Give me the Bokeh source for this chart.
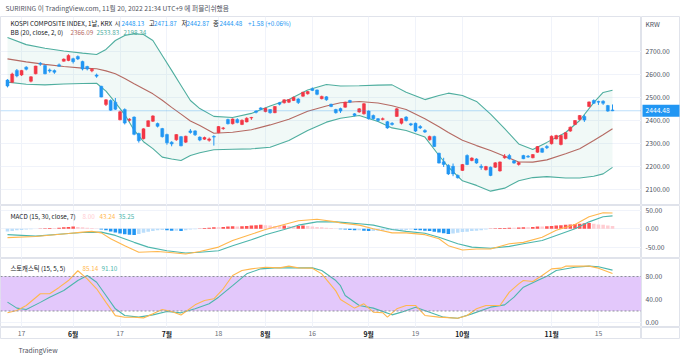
from bokeh.plotting import figure
from bokeh.layouts import column, row
from bokeh.models import (ColumnDataSource, FixedTicker, Label, Span, Range1d, BoxAnnotation)
from bokeh.embed import file_html
from bokeh.resources import INLINE
from bokeh.core.properties import value

FONT = "Noto Sans CJK KR"

# ---------------- data ----------------
opens = [2578, 2568, 2620, 2600, 2634, 2573, 2605, 2651, 2641, 2622,
         2619, 2644, 2660, 2663, 2671, 2680, 2659, 2637, 2618, 2600,
         2551, 2472, 2489, 2482, 2405, 2450, 2403, 2417, 2346, 2323,
         2376, 2399, 2389, 2367, 2341, 2308, 2318, 2332, 2308, 2357,
         2357, 2330, 2321, 2316, 2333, 2349, 2367, 2406, 2388, 2406,
         2385, 2396, 2413, 2443, 2457, 2441, 2450, 2436, 2479, 2479,
         2482, 2489, 2496, 2508, 2518, 2540, 2535, 2497, 2505, 2473,
         2450, 2454, 2460, 2489, 2431, 2439, 2431, 2443, 2424, 2410,
         2407, 2397, 2390, 2420, 2390, 2417, 2388, 2390, 2376, 2359,
         2318, 2333, 2260, 2223, 2207, 2203, 2163, 2185, 2250, 2228,
         2235, 2203, 2188, 2199, 2199, 2183, 2240, 2250, 2227, 2211,
         2250, 2247, 2240, 2264, 2280, 2289, 2301, 2322, 2298, 2323,
         2356, 2385, 2406, 2420, 2463, 2489, 2485, 2486, 2467, 2448.13]
highs = [2582, 2610, 2626, 2622, 2638, 2595, 2640, 2656, 2645, 2628,
         2624, 2650, 2672, 2690, 2675, 2685, 2662, 2640, 2630, 2606,
         2553, 2495, 2494, 2500, 2445, 2455, 2412, 2420, 2349, 2368,
         2403, 2425, 2393, 2370, 2345, 2312, 2343, 2335, 2336, 2365,
         2360, 2333, 2332, 2328, 2338, 2378, 2374, 2410, 2411, 2412,
         2407, 2416, 2418, 2447, 2460, 2458, 2452, 2465, 2483, 2494,
         2495, 2506, 2499, 2527, 2530, 2546, 2537, 2510, 2508, 2475,
         2453, 2458, 2484, 2492, 2434, 2456, 2478, 2446, 2428, 2413,
         2415, 2400, 2395, 2456, 2412, 2421, 2392, 2393, 2382, 2364,
         2336, 2336, 2262, 2240, 2212, 2215, 2168, 2213, 2255, 2242,
         2238, 2212, 2205, 2202, 2221, 2224, 2256, 2257, 2230, 2222,
         2253, 2252, 2256, 2291, 2284, 2295, 2337, 2340, 2340, 2352,
         2376, 2404, 2426, 2427, 2485, 2494, 2488, 2490, 2470, 2471.87]
lows = [2546, 2566, 2590, 2596, 2620, 2568, 2603, 2640, 2603, 2610,
        2605, 2636, 2658, 2660, 2650, 2665, 2620, 2620, 2612, 2588,
        2503, 2465, 2444, 2448, 2403, 2385, 2398, 2338, 2306, 2320,
        2374, 2396, 2372, 2328, 2297, 2290, 2314, 2290, 2305, 2345,
        2335, 2312, 2318, 2310, 2293, 2347, 2362, 2385, 2385, 2390,
        2382, 2394, 2405, 2433, 2448, 2438, 2432, 2434, 2468, 2476,
        2478, 2487, 2474, 2505, 2515, 2530, 2512, 2494, 2488, 2460,
        2432, 2435, 2458, 2478, 2420, 2436, 2428, 2406, 2406, 2398,
        2403, 2366, 2380, 2418, 2385, 2398, 2378, 2352, 2365, 2348,
        2315, 2287, 2215, 2200, 2165, 2160, 2150, 2183, 2208, 2225,
        2214, 2188, 2185, 2160, 2196, 2180, 2236, 2232, 2214, 2206,
        2234, 2240, 2238, 2262, 2262, 2278, 2298, 2320, 2294, 2320,
        2353, 2382, 2403, 2396, 2460, 2474, 2470, 2470, 2440, 2442.87]
closes = [2552, 2604, 2596, 2620, 2625, 2592, 2639, 2647, 2605, 2617,
          2612, 2638, 2669, 2685, 2658, 2670, 2626, 2626, 2625, 2595,
          2504, 2492, 2447, 2451, 2440, 2391, 2408, 2342, 2314, 2366,
          2401, 2422, 2377, 2332, 2305, 2300, 2341, 2292, 2334, 2350,
          2340, 2317, 2328, 2322, 2330, 2376, 2370, 2388, 2409, 2393,
          2403, 2412, 2415, 2438, 2451, 2455, 2436, 2463, 2473, 2492,
          2493, 2503, 2480, 2525, 2528, 2533, 2516, 2507, 2492, 2463,
          2436, 2443, 2482, 2482, 2424, 2453, 2475, 2410, 2410, 2402,
          2410, 2370, 2385, 2453, 2410, 2402, 2383, 2356, 2370, 2352,
          2333, 2289, 2217, 2211, 2170, 2170, 2153, 2211, 2211, 2239,
          2217, 2198, 2202, 2163, 2218, 2222, 2247, 2236, 2217, 2219,
          2236, 2243, 2254, 2289, 2264, 2284, 2334, 2337, 2337, 2349,
          2373, 2402, 2424, 2404, 2483, 2477, 2482, 2477, 2443, 2444.48]

# Bollinger bands (20, 2) read at sample bars
bb_idx = [0, 4, 8, 12, 16, 19, 21, 23, 25, 27, 29, 31, 33, 35, 37, 39, 41, 44, 48, 52,
          56, 60, 64, 68, 71, 75, 79, 82, 85, 89, 92, 94, 97, 100, 103, 106, 109, 112, 115, 119,
          122, 125, 127, 129]
bb_upper = [2763, 2732, 2716, 2704, 2695, 2689, 2711, 2750, 2772, 2780,
            2776, 2750, 2685, 2620, 2554, 2489, 2454, 2420, 2415, 2433,
            2465, 2493, 2535, 2559, 2552, 2553, 2556, 2557, 2525, 2493,
            2511, 2521, 2511, 2485, 2430, 2367, 2300, 2276, 2307, 2350,
            2402, 2480, 2524, 2533.83]
bb_basis = [2670, 2657, 2646, 2637, 2630, 2627, 2618, 2605, 2585, 2562,
            2540, 2518, 2490, 2459, 2430, 2400, 2380, 2347, 2351, 2362,
            2383, 2408, 2442, 2465, 2479, 2485, 2478, 2466, 2450, 2410,
            2375, 2350, 2316, 2293, 2272, 2247, 2222, 2221, 2231, 2258,
            2279, 2315, 2340, 2366.09]
bb_lower = [2569, 2560, 2557, 2561, 2563, 2564, 2530, 2480, 2428, 2360,
            2310, 2280, 2243, 2235, 2228, 2250, 2262, 2275, 2277, 2279,
            2286, 2315, 2359, 2395, 2412, 2424, 2398, 2370, 2359, 2330,
            2250, 2200, 2140, 2120, 2095, 2108, 2140, 2154, 2158, 2152,
            2152, 2160, 2170, 2198.34]

# MACD (15, 30, 7)
macd_hist = [-7, -6, -4, -3, -2, -1, 0.5, 1, 1.5, 2, 2, 3, 4, 5, 6, 5, 4, 3, 2, 1,
             -2, -4, -7, -10, -13, -15, -16, -17, -14, -11,
             -8, -6, -4, -3, -4, -5, -5, -6, -4, -2, -1,
             1, 2, 3, 4, 4, 5, 6, 7, 6, 7, 8, 9, 10, 11, 10, 9, 8, 8, 9, 8,
             7, 8, 9, 8, 6, 5, 4, 3, 2,
             1, -1, -2, -3, -4, -4, -5, -6, -6, -5,
             -5, -4, -4, -3, -3, -3, -2, -3, -4, -5,
             -6, -8, -10, -12, -14, -13, -11, -9, -8, -6,
             -5, -4, -2, 1, 1.5, 2, 2.5, 3, 3, 3.5,
             4, 4, 5, 6, 6, 7, 8, 9, 10, 11,
             12, 13, 14, 15, 16, 14, 12, 11, 9, 8]
macd_idx = [0, 6, 13, 16, 18, 20, 22, 25, 28, 32, 34, 38, 41, 45, 48, 52, 55, 59, 62, 66,
            70, 71, 75, 78, 82, 85, 89, 92, 94, 97, 100, 103, 107, 110, 114, 117, 121, 124, 127, 129]
macd_line = [-24, -21, -13, -9, -7, -11, -27, -46, -64, -62, -64, -69, -62, -50, -32, -15, -2, 12, 22, 26,
             19, 16, 10, 0, -11, -11, -16, -27, -46, -58, -55, -55, -41, -37, -23, -4, 12, 33, 44, 43.24]
sig_idx = [0, 6, 13, 16, 20, 23, 27, 30, 34, 38, 41, 45, 48, 52, 55, 59, 62, 66, 70, 72,
           75, 78, 82, 85, 89, 92, 96, 99, 103, 107, 110, 114, 117, 121, 124, 127, 129]
sig_line = [-16, -20, -13, -10, -9, -18, -37, -50, -60, -66, -64, -60, -46, -30, -16, -2, 10, 19, 19, 17,
            14, 10, -2, -7, -12, -23, -41, -50, -53, -48, -41, -32, -18, 0, 19, 33, 35.25]

# Stochastic (15, 5, 5)
k_idx = [0, 2, 4, 7, 9, 11, 13, 15, 17, 19, 21, 23, 25, 27, 29, 31, 33, 35, 37, 40,
         42, 44, 46, 48, 50, 52, 55, 58, 60, 62, 65, 67, 70, 71, 74, 76, 78, 80, 81, 83,
         85, 87, 89, 92, 96, 98, 100, 102, 105, 107, 109, 110, 112, 114, 116, 118, 119, 124, 126, 129]
k_line = [16.8, 20.9, 29.6, 50, 50, 61, 73, 90, 76, 58.6, 35, 12, 9, 9, 8, 15, 22.6, 19, 13, 30.7,
          38.3, 41.2, 58.6, 81.7, 90.4, 93.3, 96.2, 95, 98, 95, 94.5, 84.6, 55, 40, 25, 32.5, 18, 17, 9.3, 23.8,
          29.6, 29.6, 12.2, 9.3, 7.5, 12.2, 23.8, 29.6, 29.6, 52.8, 67.2, 73, 71.3, 81.7, 93.3, 94.5, 98, 98, 94.5, 85.14]
d_idx = [0, 2, 4, 7, 9, 12, 15, 17, 19, 21, 23, 25, 28, 31, 34, 37, 40, 43, 45, 48,
         51, 54, 57, 61, 65, 67, 70, 71, 72, 75, 78, 82, 84, 87, 90, 93, 96, 99, 103, 106,
         108, 110, 113, 115, 117, 121, 124, 126, 129]
d_line = [35.4, 25, 22.6, 35, 44, 55.7, 73, 81.7, 70, 47, 23.8, 12.2, 9.3, 13.3, 19, 16.8, 23.8, 32.5, 44, 64,
          84.6, 93.3, 95, 95, 95, 90.4, 73, 64, 47, 29.6, 25, 13.3, 18, 26.7, 18, 9.3, 7.5, 15, 26.7, 30.7,
          44, 61.4, 73, 80.5, 90.4, 96.2, 98, 97, 91.1]
stoch_upper_band = 80
stoch_lower_band = 20

# axis ticks
price_ticks = [2100, 2200, 2300, 2400, 2500, 2600, 2700]
macd_ticks = [-50, 0, 50]
stoch_ticks = [0, 40, 80]
day_tick_idx = [3, 24, 45, 65, 87, 126]
day_labels = ["17", "17", "18", "16", "19", "15"]
month_tick_idx = [14, 34, 55, 77, 97, 116]
month_labels = ["6월", "7월", "8월", "9월", "10월", "11월"]

# ---------------- styling ----------------
UP = "#f23645"
DOWN = "#2196f3"
TEAL = "#4fae9f"
BASIS = "#b56a63"
ORANGE = "#ffb74d"
TEAL2 = "#4db6ac"
GRID = "#f0f3fa"
BORDER = "#e0e3eb"
TXT = "#131722"
AX = "#4c525e"
LEG = "6.3px"

PANE_W, AXIS_W = 641, 39
idx = list(range(len(closes)))
x_range = Range1d(-1.49, 135.18)


def pane(height, y_range, ticks):
    p = figure(width=PANE_W, height=height, x_range=x_range, y_range=y_range,
               output_backend="svg", toolbar_location=None, title=None,
               x_axis_location=None, y_axis_location=None, min_border=0)
    p.outline_line_color = BORDER
    p.background_fill_color = "white"
    p.border_fill_color = "white"
    p.xgrid.ticker = FixedTicker(ticks=sorted(day_tick_idx + month_tick_idx))
    p.xgrid.grid_line_color = GRID
    if ticks is None:
        p.ygrid.grid_line_color = None
    else:
        p.ygrid.ticker = FixedTicker(ticks=ticks)
        p.ygrid.grid_line_color = GRID
    return p


def axis_col(height, y_range, ticks):
    a = figure(width=AXIS_W, height=height, x_range=Range1d(0, AXIS_W), y_range=y_range,
               output_backend="svg", toolbar_location=None, title=None,
               x_axis_location=None, y_axis_location=None, min_border=0)
    a.grid.visible = False
    a.outline_line_color = BORDER
    a.background_fill_color = "white"
    a.border_fill_color = "white"
    if ticks:
        a.text(x=4, y=ticks, text=[f"{t:.2f}" for t in ticks], text_font=value(FONT),
               text_font_size="6.7px", text_color=AX, text_baseline="middle")
    return a


def lbl(p, x, y, text, color, size=LEG, style="normal"):
    p.add_layout(Label(x=x, y=y, x_units="screen", y_units="screen", text=text,
                       text_color=color, text_font=FONT, text_font_size=size,
                       text_font_style=style, text_baseline="middle"))


def strip(height):
    s = figure(width=PANE_W + AXIS_W, height=height, x_range=Range1d(0, 1), y_range=Range1d(0, 1),
               output_backend="svg", toolbar_location=None, title=None,
               x_axis_location=None, y_axis_location=None, min_border=0)
    s.grid.visible = False
    s.outline_line_color = None
    s.background_fill_color = "white"
    s.border_fill_color = "white"
    return s


# ---------------- header ----------------
head = strip(16)
lbl(head, 5, 9, "SURIRING 이 TradingView.com, 11월 20, 2022 21:34 UTC+9 에 퍼블리쉬했음", "#50535e",
    size="6.7px")

# ---------------- price pane ----------------
price_range = Range1d(2032.6, 2854.3)
pa = pane(189, price_range, price_ticks)
pa.varea(x=bb_idx, y1=bb_lower, y2=bb_upper, fill_color=TEAL, fill_alpha=0.08)
pa.line(bb_idx, bb_upper, line_color=TEAL, line_width=1.1)
pa.line(bb_idx, bb_lower, line_color=TEAL, line_width=1.1)
pa.line(bb_idx, bb_basis, line_color=BASIS, line_width=1.1)
pa.add_layout(Span(location=closes[-1], dimension="width", line_color="#2196f3",
                   line_alpha=0.3, line_width=1))

col = [UP if c >= o else DOWN for o, c in zip(opens, closes)]
src = ColumnDataSource(dict(x=idx, h=highs, l=lows,
                            top=[max(o, c) for o, c in zip(opens, closes)],
                            bot=[min(o, c) for o, c in zip(opens, closes)], col=col))
pa.segment(x0="x", y0="l", x1="x", y1="h", color="col", line_width=1, source=src)
pa.vbar(x="x", width=0.64, top="top", bottom="bot", fill_color="col", line_color="col",
        line_width=0.5, source=src)

lbl(pa, 10, 182, "KOSPI COMPOSITE INDEX, 1날, KRX", TXT)
for xx, t, c in [(114, "시", TXT), (121, "2448.13", DOWN), (148.5, "고", TXT), (153.5, "2471.87", DOWN),
                 (181, "저", TXT), (186, "2442.87", DOWN), (212.5, "종", TXT), (219, "2444.48", DOWN),
                 (247.5, "+1.58 (+0.06%)", DOWN)]:
    lbl(pa, xx, 182, t, c)
lbl(pa, 10, 173, "BB (20, close, 2, 0)", TXT)
lbl(pa, 70, 173, "2366.09", BASIS)
lbl(pa, 96, 173, "2533.83", TEAL)
lbl(pa, 123, 173, "2198.34", TEAL)

axa = axis_col(189, price_range, price_ticks)
lbl(axa, 4, 182, "KRW", AX, size="6.7px")
axa.rect(x=AXIS_W / 2, y=closes[-1], width=AXIS_W - 2, height=12, height_units="screen",
         fill_color="#2196f3", line_color=None)
axa.text(x=4, y=[closes[-1]], text=[f"{closes[-1]:.2f}"], text_font=value(FONT),
         text_font_size="6.7px", text_color="white", text_baseline="middle")

# ---------------- MACD pane ----------------
macd_range = Range1d(-81.1, 63.7)
pb = pane(53, macd_range, macd_ticks)
hcol = []
for i, v in enumerate(macd_hist):
    prev = macd_hist[i - 1] if i > 0 else v
    if v >= 0:
        hcol.append("#ff5252" if v > prev else "#ffcdd2")
    else:
        hcol.append("#2196f3" if v < prev else "#bbdefb")
pb.vbar(x=idx, top=macd_hist, bottom=0, width=0.75, fill_color=hcol, line_color=None)
pb.line(sig_idx, sig_line, line_color=TEAL2, line_width=1.1)
pb.line(macd_idx, macd_line, line_color=ORANGE, line_width=1.1)
lbl(pb, 10, 42.5, "MACD (15, 30, close, 7)", TXT)
lbl(pb, 82, 42.5, "8.00", "#ffcdd2")
lbl(pb, 99, 42.5, "43.24", ORANGE)
lbl(pb, 118, 42.5, "35.25", TEAL2)
axb = axis_col(53, macd_range, macd_ticks)

# ---------------- Stochastic pane ----------------
stoch_range = Range1d(-8.7, 111.3)
pc = pane(69, stoch_range, stoch_ticks)
pc.add_layout(BoxAnnotation(bottom=stoch_lower_band, top=stoch_upper_band, fill_color="#e3c8fb",
                            fill_alpha=1, line_color=None, level="underlay"))
for b in (stoch_upper_band, stoch_lower_band):
    pc.add_layout(Span(location=b, dimension="width", line_color="#8d8f99",
                       line_dash="2 2", line_width=1))
pc.line(d_idx, d_line, line_color=TEAL2, line_width=1.1)
pc.line(k_idx, k_line, line_color=ORANGE, line_width=1.1)
lbl(pc, 10, 59.3, "스토캐스틱 (15, 5, 5)", TXT)
lbl(pc, 82, 59.3, "85.14", ORANGE)
lbl(pc, 101, 59.3, "91.10", TEAL2)
axc = axis_col(69, stoch_range, stoch_ticks)

# ---------------- time axis row ----------------
pd_ = pane(12, Range1d(0, 1), None)
pd_.xgrid.grid_line_color = None
pd_.text(x=day_tick_idx, y=0.5, text=day_labels, text_font=value(FONT), text_font_size="6.8px",
         text_color="#6a6d78", text_align="center", text_baseline="middle")
pd_.text(x=month_tick_idx, y=0.5, text=month_labels, text_font=value(FONT), text_font_size="6.8px",
         text_font_style="bold", text_color=TXT, text_align="center", text_baseline="middle")
axd = axis_col(12, Range1d(0, 1), None)

# ---------------- footer ----------------
foot = strip(20)
lbl(foot, 18, 10, "TradingView", "#50535e", size="6.8px")

layout = column(head,
                row(pa, axa, spacing=0),
                row(pb, axb, spacing=0),
                row(pc, axc, spacing=0),
                row(pd_, axd, spacing=0),
                foot, spacing=0)
open("out.html", "w").write(file_html(layout, INLINE))
